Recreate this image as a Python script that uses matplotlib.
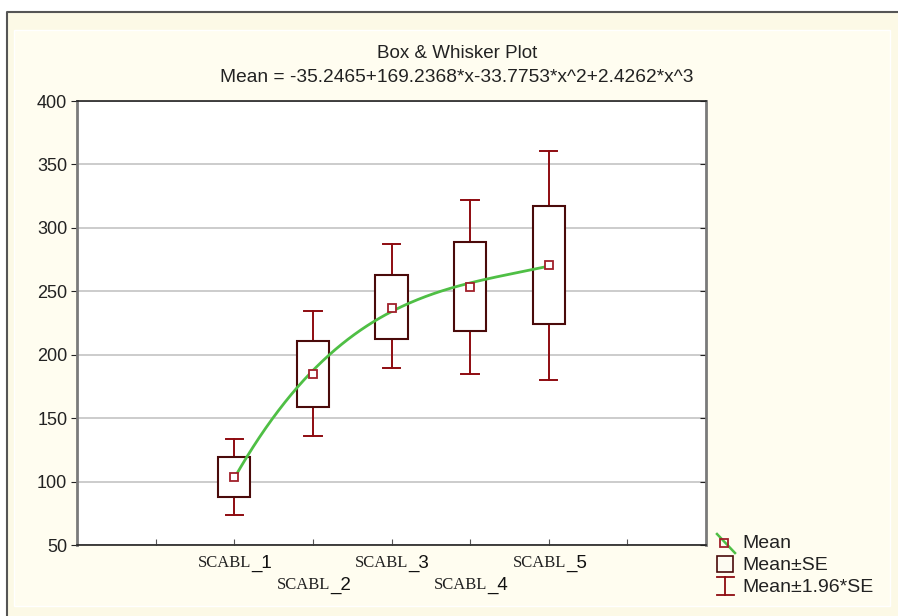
import numpy as np
import matplotlib
matplotlib.use("Agg")
import matplotlib.pyplot as plt
import matplotlib.transforms as mtransforms
from matplotlib.patches import Rectangle
from matplotlib.lines import Line2D

# values
categories = ["1", "2", "3", "4", "5"]
positions = [1, 2, 3, 4, 5]
means = [103.6, 185.0, 236.8, 253.6, 270.5]
box_low = [88.1, 159.0, 212.4, 219.0, 224.0]
box_high = [119.1, 211.0, 263.0, 288.6, 317.2]
whisk_low = [73.7, 136.0, 189.5, 185.0, 180.0]
whisk_high = [133.3, 234.5, 287.0, 322.2, 360.8]
# fitted curve, coefficients from the subtitle
coef = [-35.2465, 169.2368, -33.7753, 2.4262]

SANS = "Liberation Sans"
SERIF = "Liberation Serif"
BOX_EDGE = "#4a0a0a"
WHISK = "#8e0b10"
GREEN = "#4fbf45"

fig = plt.figure(figsize=(8.98, 6.16), dpi=100, facecolor="white")
W, H = 898.0, 616.0

# background frame and panel (drawn on a full-figure axes behind the plot)
bg = fig.add_axes([0, 0, 1, 1], zorder=-5)
bg.set_xlim(0, W)
bg.set_ylim(H, 0)
bg.axis("off")
bg.add_patch(Rectangle((7, 12), W, H, facecolor="#fcf9e6", edgecolor="none"))
bg.add_patch(Rectangle((14, 30), 876, 576, facecolor="#fffdf0", edgecolor="white", lw=1.0))
bg.add_line(Line2D([7, 7, W], [H, 12, 12], color="#555555", lw=1.5))

ax = fig.add_axes([77 / W, 1 - 545 / H, 629 / W, 444 / H])
ax.set_facecolor("white")
ax.set_xlim(-1, 7)
ax.set_ylim(50, 400)

ax.set_yticks([50, 100, 150, 200, 250, 300, 350, 400])
ax.yaxis.grid(True, color="#c4c4c4", lw=1.2)
ax.set_axisbelow(True)
ax.tick_params(axis="y", direction="out", length=4, labelsize=13, colors="#222222",
               right=True, pad=3)
for lab in ax.get_yticklabels():
    lab.set_fontfamily(SANS)
ax.set_xticks(range(0, 7))
ax.set_xticklabels([])
ax.tick_params(axis="x", direction="in", length=4, color="#555555")

for side in ["top", "bottom"]:
    ax.spines[side].set_color("#222222")
    ax.spines[side].set_linewidth(1.2)
for side in ["left", "right"]:
    ax.spines[side].set_color("#7a7a7a")
    ax.spines[side].set_linewidth(2.0)

# right ticks pointing inward
for t in ax.yaxis.get_major_ticks():
    t.tick2line.set_marker(0)
    t.tick2line.set_markersize(4)

half = 0.205
cap = 0.11
for x, m, bl, bh, wl, wh in zip(positions, means, box_low, box_high, whisk_low, whisk_high):
    ax.plot([x, x], [bh, wh], color=WHISK, lw=1.4, zorder=3)
    ax.plot([x, x], [wl, bl], color=WHISK, lw=1.4, zorder=3)
    ax.plot([x - cap, x + cap], [wh, wh], color=WHISK, lw=1.4, zorder=3)
    ax.plot([x - cap, x + cap], [wl, wl], color=WHISK, lw=1.4, zorder=3)
    ax.add_patch(Rectangle((x - half, bl), 2 * half, bh - bl, facecolor="white",
                           edgecolor=BOX_EDGE, lw=1.5, zorder=3))

xs = np.linspace(positions[0], positions[-1], 200)
ys = coef[0] + coef[1] * xs + coef[2] * xs ** 2 + coef[3] * xs ** 3
ax.plot(xs, ys, color=GREEN, lw=2.0, zorder=4)
ax.plot(positions, means, ls="none", marker="s", ms=6, mfc="white", mec="#a0202a",
        mew=1.3, zorder=5)

# staggered category labels: serif "SCABL" + sans "_N"
for i, (x, c) in enumerate(zip(positions, categories)):
    y_px = 18 if i % 2 == 0 else 40
    base = mtransforms.blended_transform_factory(ax.transData, ax.transAxes)
    tr = mtransforms.offset_copy(base, fig=fig, x=17, y=-y_px, units="dots")
    ax.text(x, 0, "SCABL", transform=tr, ha="right", va="center", family=SERIF,
            fontsize=12, color="#222222")
    ax.text(x, 0, "_" + c, transform=tr, ha="left", va="center", family=SANS,
            fontsize=13.5, color="#111111")

fig.text(457 / W, 1 - 53 / H, "Box & Whisker Plot", ha="center", va="center",
         family=SANS, fontsize=13.5, color="#222222")
fig.text(457 / W, 1 - 77 / H, "Mean = -35.2465+169.2368*x-33.7753*x^2+2.4262*x^3",
         ha="center", va="center", family=SANS, fontsize=13.8, color="#222222")

# legend drawn by hand
lg = fig.add_axes([0, 0, 1, 1], facecolor="none")
lg.set_xlim(0, W)
lg.set_ylim(H, 0)
lg.axis("off")
lg.add_line(Line2D([717, 735], [534, 553], color=GREEN, lw=1.8))
lg.add_line(Line2D([724], [543], ls="none", marker="s", ms=6, mfc="none",
                   mec="#a0202a", mew=1.3))
lg.add_patch(Rectangle((717, 556), 16, 16, facecolor="#fdfbf2",
                       edgecolor=BOX_EDGE, lw=1.2))
lg.add_line(Line2D([725, 725], [577, 595], color=WHISK, lw=1.3))
lg.add_line(Line2D([717, 734], [577, 577], color=WHISK, lw=1.3))
lg.add_line(Line2D([717, 734], [595, 595], color=WHISK, lw=1.3))
for yy, txt in [(543, "Mean"), (565, "Mean±SE"), (587, "Mean±1.96*SE")]:
    lg.text(742, yy, txt, ha="left", va="center", family=SANS, fontsize=14,
            color="#222222")

fig.savefig("out.png", dpi=100, facecolor=fig.get_facecolor())
